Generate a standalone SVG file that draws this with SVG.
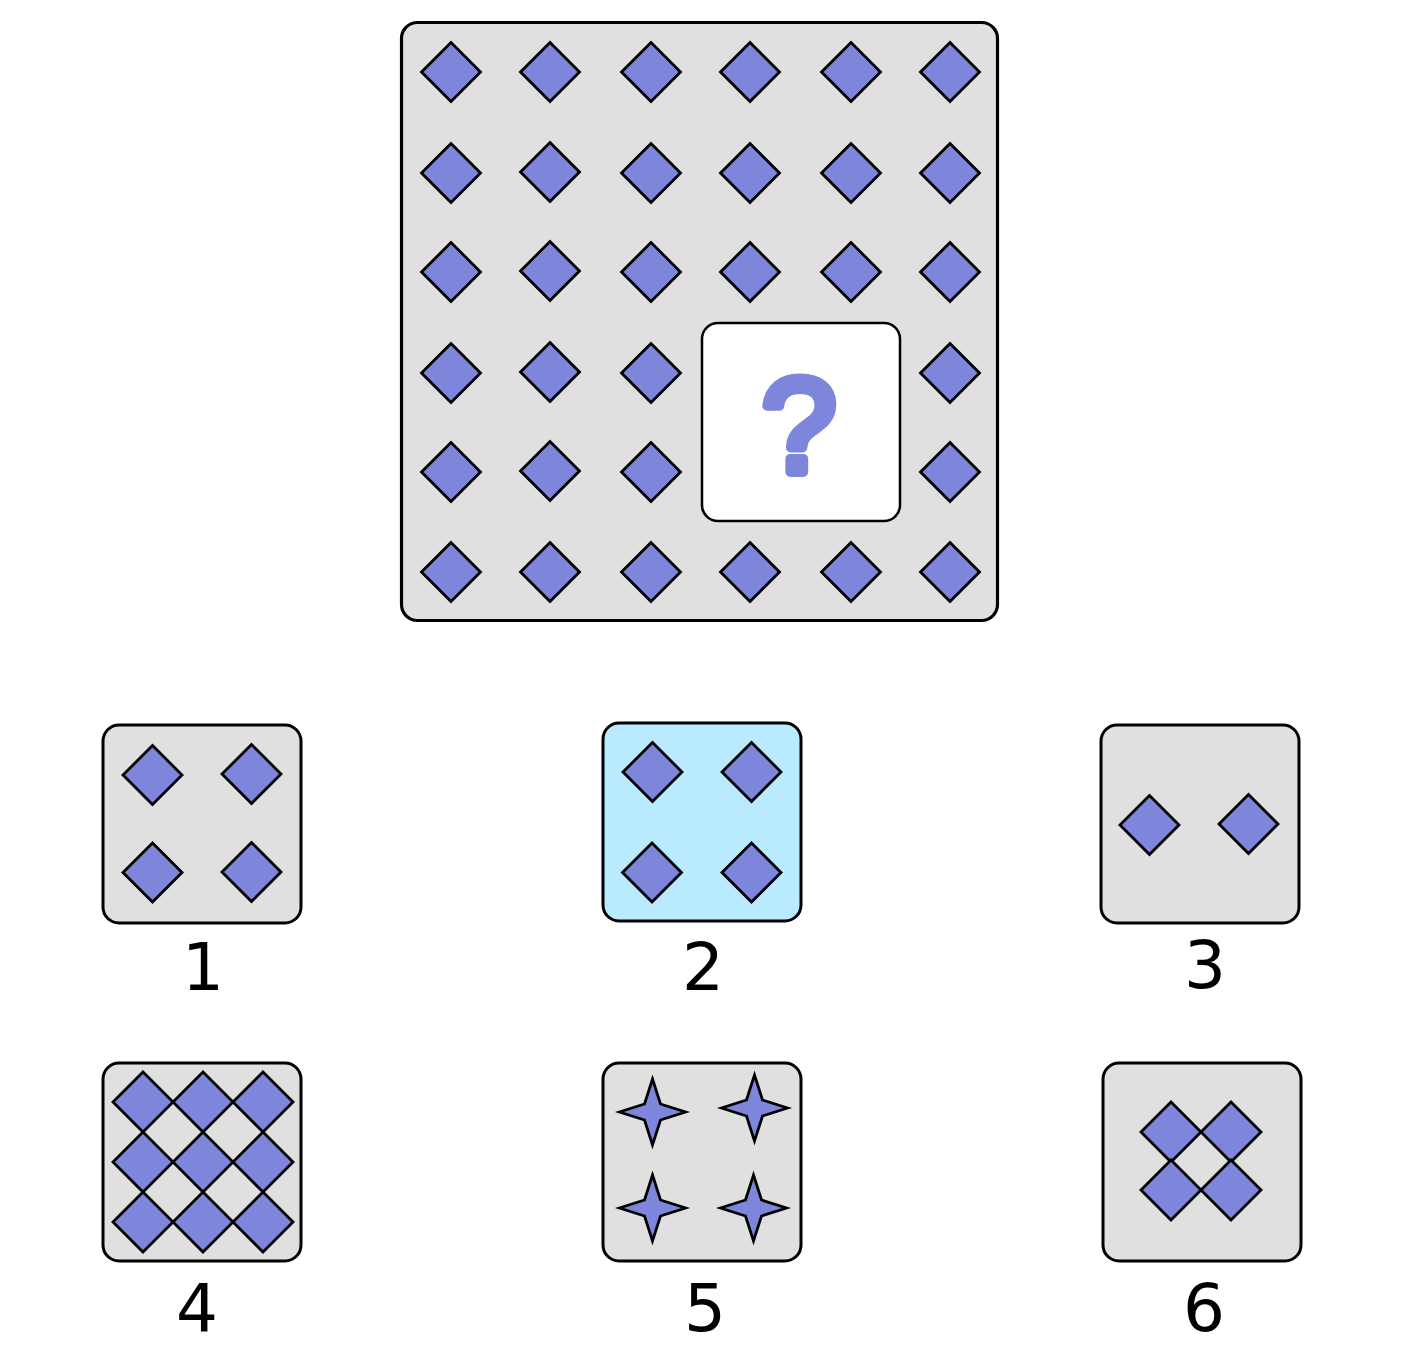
<svg xmlns="http://www.w3.org/2000/svg" width="1404" height="1364" viewBox="0 0 1404 1364">
<style>
.panel{fill:#e0e0e0;stroke:#000;stroke-width:3.2}
.opt{fill:#e0e0e0;stroke:#000;stroke-width:3}
.sel{fill:#b9eafd;stroke:#000;stroke-width:3}
.dia{fill:#7e86dc;stroke:#000;stroke-width:2.8;stroke-linejoin:miter}
.lbl{font-family:"DejaVu Sans",sans-serif;font-size:66px;fill:#000;text-anchor:middle}
.q{font-family:"Liberation Sans",Arial,sans-serif;font-size:134px;fill:#7e86dc;stroke:#7e86dc;stroke-width:10;stroke-linejoin:round;stroke-linecap:round;text-anchor:middle}
</style>
<defs>
<path id="d" class="dia" d="M0,-29.5 L29.5,0 L0,29.5 L-29.5,0 Z"/>
<path id="d30" class="dia" d="M0,-30 L30,0 L0,30 L-30,0 Z"/>
<path id="s" class="dia" d="M0,-33 L8,-8 L33,0 L8,8 L0,33 L-8,8 L-33,0 L-8,-8 Z"/>
</defs>
<rect width="1404" height="1364" fill="#fff"/>
<g id="matrix">
<rect class="panel" x="401.5" y="22.5" width="596" height="598" rx="16"/>
<use href="#d" x="451" y="72"/><use href="#d" x="550" y="72"/><use href="#d" x="651" y="72"/><use href="#d" x="750" y="72"/><use href="#d" x="851" y="72"/><use href="#d" x="950" y="72"/>
<use href="#d" x="451" y="173"/><use href="#d" x="550" y="172"/><use href="#d" x="651" y="173"/><use href="#d" x="750" y="173"/><use href="#d" x="851" y="173"/><use href="#d" x="950" y="173"/>
<use href="#d" x="451" y="272"/><use href="#d" x="550" y="271"/><use href="#d" x="651" y="272"/><use href="#d" x="750" y="272"/><use href="#d" x="851" y="272"/><use href="#d" x="950" y="272"/>
<use href="#d" x="451" y="373"/><use href="#d" x="550" y="372"/><use href="#d" x="651" y="373"/><use href="#d" x="950" y="373"/>
<use href="#d" x="451" y="472"/><use href="#d" x="550" y="471"/><use href="#d" x="651" y="472"/><use href="#d" x="950" y="472"/>
<use href="#d" x="451" y="572"/><use href="#d" x="550" y="572"/><use href="#d" x="651" y="572"/><use href="#d" x="750" y="572"/><use href="#d" x="851" y="572"/><use href="#d" x="950" y="572"/>
</g>
<g id="question">
<rect x="702" y="323" width="198" height="198" rx="16" fill="#fff" stroke="#000" stroke-width="2.5"/>
<text class="q" x="799" y="472">?</text>
</g>
<g id="option1">
<rect class="opt" x="103" y="725" width="198" height="198" rx="16"/>
<use href="#d" x="152.5" y="775"/><use href="#d" x="251.5" y="774"/>
<use href="#d" x="152.5" y="872.5"/><use href="#d" x="251.5" y="872"/>
<text class="lbl" x="203" y="990">1</text>
</g>
<g id="option2">
<rect class="sel" x="603" y="723" width="198" height="198" rx="16"/>
<use href="#d" x="652.5" y="772"/><use href="#d" x="751.5" y="772"/>
<use href="#d" x="652" y="872.5"/><use href="#d" x="751.5" y="872.5"/>
<text class="lbl" x="703" y="990">2</text>
</g>
<g id="option3">
<rect class="opt" x="1101" y="725" width="198" height="198" rx="16"/>
<use href="#d" x="1149.5" y="825"/><use href="#d" x="1248.5" y="824"/>
<text class="lbl" x="1205" y="988">3</text>
</g>
<g id="option4">
<rect class="opt" x="103" y="1063" width="198" height="198" rx="16"/>
<use href="#d30" x="143" y="1102"/><use href="#d30" x="203" y="1102"/><use href="#d30" x="263" y="1102"/>
<use href="#d30" x="143" y="1162"/><use href="#d30" x="203" y="1162"/><use href="#d30" x="263" y="1162"/>
<use href="#d30" x="143" y="1222"/><use href="#d30" x="203" y="1222"/><use href="#d30" x="263" y="1222"/>
<text class="lbl" x="197" y="1331">4</text>
</g>
<g id="option5">
<rect class="opt" x="603" y="1063" width="198" height="198" rx="16"/>
<use href="#s" x="652.5" y="1112"/><use href="#s" x="754.5" y="1108"/>
<use href="#s" x="652.5" y="1208"/><use href="#s" x="753.5" y="1208"/>
<text class="lbl" x="705" y="1331">5</text>
</g>
<g id="option6">
<rect class="opt" x="1103" y="1063" width="198" height="198" rx="16"/>
<use href="#d30" x="1171" y="1132"/><use href="#d30" x="1231" y="1132"/>
<use href="#d30" x="1171" y="1190"/><use href="#d30" x="1231" y="1190"/>
<text class="lbl" x="1204" y="1331">6</text>
</g>
<g id="connectors"/>
</svg>
